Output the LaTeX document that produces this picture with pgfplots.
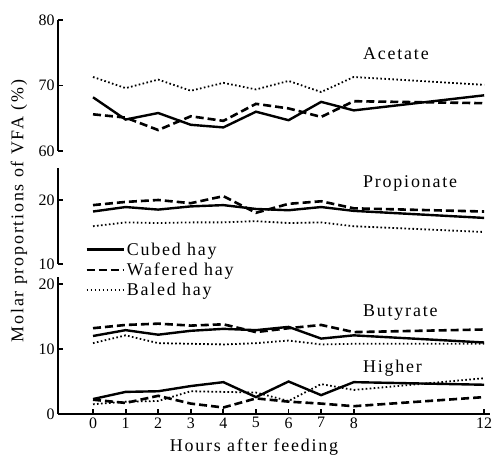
\documentclass[border=0pt]{standalone}
\usepackage{fontspec}
\setmainfont{Liberation Serif}
\newfontfamily\lab[LetterSpace=10]{Liberation Serif}
\usepackage{pgfplots}
\usepackage{pgfplotstable}
\pgfplotsset{compat=1.18}

\pgfplotstableread{
h  cub  waf  bal
0  68.2 65.6 71.3
1  64.8 65.1 69.6
2  65.8 63.2 70.9
3  64.0 65.3 69.2
4  63.6 64.6 70.4
5  66.0 67.2 69.4
6  64.7 66.5 70.7
7  67.5 65.2 69.0
8  66.2 67.6 71.3
12 68.5 67.3 70.1
}\acetate
\pgfplotstableread{
h  cub  waf  bal
0  18.2 19.2 15.9
1  18.9 19.7 16.5
2  18.5 20.0 16.4
3  19.0 19.5 16.5
4  19.2 20.6 16.5
5  18.6 18.0 16.7
6  18.4 19.4 16.4
7  18.9 19.8 16.5
8  18.3 18.7 15.9
12 17.2 18.2 15.0
}\propionate
\pgfplotstableread{
h  cub  waf  bal
0  12.0 13.2 10.9
1  12.9 13.7 12.1
2  12.2 13.9 10.9
3  12.8 13.6 10.8
4  13.1 13.8 10.7
5  12.9 12.6 10.9
6  13.4 13.2 11.3
7  11.6 13.7 10.7
8  12.1 12.6 10.8
12 11.0 13.0 10.8
}\butyrate
\pgfplotstableread{
h  cub  waf  bal
0  2.3 2.2 1.5
1  3.4 1.7 1.9
2  3.5 2.8 2.0
3  4.3 1.6 3.5
4  4.9 1.0 3.4
5  2.6 2.4 3.3
6  5.0 1.9 2.0
7  2.9 1.6 4.6
8  4.9 1.2 3.7
12 4.5 2.6 5.5
}\higher

\pgfplotsset{
  panel/.style={
    scale only axis, width=432bp,
    xmin=-1.074, xmax=12.18,
    axis y line*=left,
    tick align=inside,
    major tick length=4.5bp,
    axis line style={line width=2.8bp, black},
    tick style={line width=1.8bp, black},
    /pgf/number format/assume math mode=true,
    tick label style={font=\fontsize{16}{18}\selectfont},
    clip=false,
  },
  cubed/.style={black, line width=2.4bp, solid},
  wafered/.style={black, line width=2.6bp, dash pattern=on 8bp off 4bp},
  baled/.style={black, line width=1.8bp, dash pattern=on 1.6bp off 2.4bp},
}

\begin{document}
\begin{tikzpicture}
\useasboundingbox (0,0) rectangle (494bp,456bp);

\begin{axis}[panel, at={(58bp,305bp)}, anchor=south west, height=131bp,
  ymin=60, ymax=80, ytick={60,70,80}, axis x line=none, xtick=\empty]
  \addplot[cubed] table[x=h,y=cub] {\acetate};
  \addplot[wafered] table[x=h,y=waf] {\acetate};
  \addplot[baled] table[x=h,y=bal] {\acetate};
\end{axis}

\begin{axis}[panel, at={(58bp,192bp)}, anchor=south west, height=96bp,
  ymin=10, ymax=25, ytick={10,20}, axis x line=none, xtick=\empty,
  legend style={at={(0.0625,0.245)}, anchor=north west, draw=none, fill=none,
    font=\lab\fontsize{18}{21.7}\selectfont, inner sep=0pt,
    row sep=2.3bp,
    /tikz/every even column/.append style={column sep=0bp}},
  legend cell align=left,
  legend image code/.code={\draw[#1] (0bp,0bp) -- (37bp,0bp);},
]
  \addplot[cubed] table[x=h,y=cub] {\propionate};
  \addlegendentry{Cubed hay}
  \addplot[wafered] table[x=h,y=waf] {\propionate};
  \addlegendentry{Wafered hay}
  \addplot[baled] table[x=h,y=bal] {\propionate};
  \addlegendentry{Baled hay}
\end{axis}

\begin{axis}[panel, at={(58bp,42bp)}, anchor=south west, height=136.5bp,
  ymin=0, ymax=21, ytick={0,10,20}, axis x line*=bottom,
  xtick={0,1,2,3,4,5,6,7,8,12}]
  \addplot[cubed] table[x=h,y=cub] {\butyrate};
  \addplot[wafered] table[x=h,y=waf] {\butyrate};
  \addplot[baled] table[x=h,y=bal] {\butyrate};
  \addplot[cubed] table[x=h,y=cub] {\higher};
  \addplot[wafered] table[x=h,y=waf] {\higher};
  \addplot[baled] table[x=h,y=bal] {\higher};
\end{axis}

\begin{scope}[every node/.style={font=\lab\fontsize{18}{21}\selectfont, inner sep=0pt}]
  \node[anchor=base west] at (363bp,396bp) {Acetate};
  \node[anchor=base west] at (363bp,268bp) {Propionate};
  \node[anchor=base west] at (363bp,139.3bp) {Butyrate};
  \node[anchor=base west] at (363bp,83bp) {Higher};
  \node[anchor=base] at (254bp,5bp) {Hours after feeding};
  \node[rotate=90, anchor=center] at (19bp,245bp) {Molar proportions of VFA (\%)};
\end{scope}
\end{tikzpicture}
\end{document}
